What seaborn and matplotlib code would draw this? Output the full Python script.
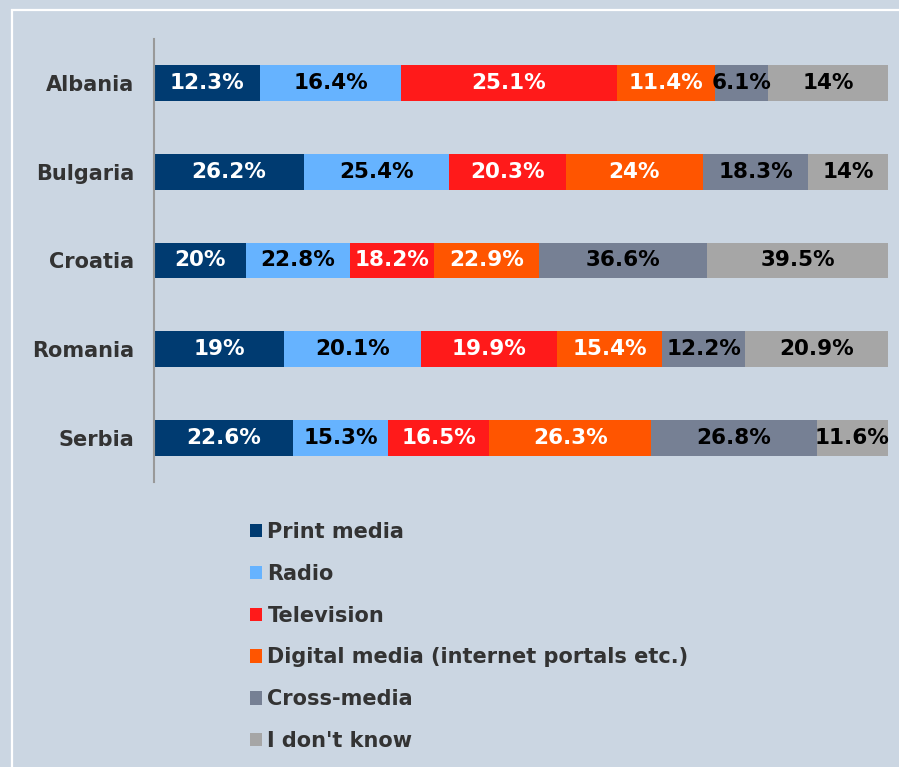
import numpy as np
import pandas as pd
import matplotlib
matplotlib.use("Agg")
import matplotlib.pyplot as plt
import seaborn as sns
from matplotlib.patches import Patch, Rectangle

countries = ["Albania", "Bulgaria", "Croatia", "Romania", "Serbia"]
media = ["Print media", "Radio", "Television",
         "Digital media (internet portals etc.)", "Cross-media", "I don't know"]
print_media = [12.3, 26.2, 20, 19, 22.6]
radio = [16.4, 25.4, 22.8, 20.1, 15.3]
television = [25.1, 20.3, 18.2, 19.9, 16.5]
digital = [11.4, 24, 22.9, 15.4, 26.3]
cross_media = [6.1, 18.3, 36.6, 12.2, 26.8]
dont_know = [14, 14, 39.5, 20.9, 11.6]

colors = ["#003B71", "#66B3FF", "#FF1A1A", "#FF5500", "#768094", "#A6A6A6"]
text_colors = ["white", "black", "white", "white", "black", "black"]
bg = "#CBD6E2"

vals = np.array([print_media, radio, television, digital, cross_media, dont_know]).T
shares = vals / vals.sum(axis=1, keepdims=True) * 100
cum = shares.cumsum(axis=1)

sns.set_theme(style="white")
plt.rcParams["font.family"] = ["DejaVu Sans"]
plt.rcParams["font.weight"] = "bold"

fig = plt.figure(figsize=(8.99, 7.67), dpi=100, facecolor=bg)
ax = fig.add_axes([154 / 899, 1 - 482 / 767, 734 / 899, 443 / 767])
ax.set_facecolor(bg)

# stacked bars: draw cumulative totals from the widest down
for i in range(len(media) - 1, -1, -1):
    df = pd.DataFrame({"country": countries, "cum": cum[:, i]})
    sns.barplot(data=df, x="cum", y="country", orient="h", color=colors[i],
                width=0.405, linewidth=0, saturation=1, ax=ax)

for r in range(len(countries)):
    for i in range(len(media)):
        start = cum[r, i] - shares[r, i]
        ax.text(start + shares[r, i] / 2, r, f"{vals[r, i]:g}%",
                ha="center", va="center", fontsize=15.5, fontweight="bold",
                color=text_colors[i])

ax.set_xlim(0, 100)
ax.set_ylim(4.5, -0.5)
ax.set_xlabel("")
ax.set_ylabel("")
ax.set_xticks([])
ax.tick_params(axis="y", length=0, pad=14, labelsize=15, labelcolor="#333333")
for lab in ax.get_yticklabels():
    lab.set_fontweight("bold")
for s in ["top", "right", "bottom"]:
    ax.spines[s].set_visible(False)
ax.spines["left"].set_color("#999999")
ax.spines["left"].set_linewidth(1.5)

handles = [Patch(facecolor=c, edgecolor="none") for c in colors]
leg = fig.legend(handles, media, loc="upper left",
                 bbox_to_anchor=(231 / 899, 1 - 503 / 767),
                 frameon=False, fontsize=15, labelspacing=1.05,
                 handlelength=0.6, handleheight=0.6, handletextpad=0.25,
                 labelcolor="#333333")
for t in leg.get_texts():
    t.set_fontweight("bold")

fig.add_artist(Rectangle((12 / 899, -0.1), 1.2, 1.1 - 10 / 767,
                         transform=fig.transFigure, fill=False,
                         edgecolor="white", linewidth=1.6))

fig.savefig("out.png", dpi=100, facecolor=bg)
